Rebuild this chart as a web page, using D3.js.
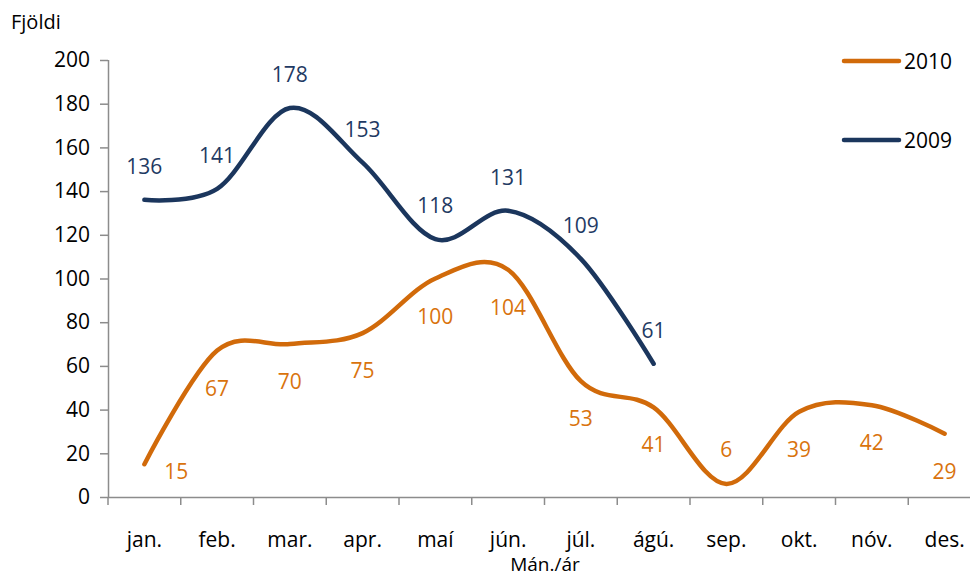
<!DOCTYPE html>
<html><head><meta charset="utf-8">
<script src="https://cdn.jsdelivr.net/npm/d3@7"></script>
<style>
html,body{margin:0;padding:0;background:#fff;}
svg{display:block;font-family:"Open Sans","Noto Sans",sans-serif;}
</style></head>
<body><svg id="c" width="970" height="577"></svg>
<script>
const months = ["jan.","feb.","mar.","apr.","maí","jún.","júl.","ágú.","sep.","okt.","nóv.","des."];
const values2010 = [15,67,70,75,100,104,53,41,6,39,42,29];
const values2009 = [136,141,178,153,118,131,109,61];
const yTicks = [0,20,40,60,80,100,120,140,160,180,200];
const seriesNames = ["2010","2009"];

const col2010 = "#D16A0A", col2009 = "#1B365D";
const lab2010 = "#D9730D", lab2009 = "#1F3A63";
const FS = "21px";

const svg = d3.select("#c");
const x = d3.scaleBand().domain(months).range([108, 981]).paddingInner(0).paddingOuter(0);
const y = d3.scaleLinear().domain([0,200]).range([497, 60]);
const cx = m => x(m) + x.bandwidth()/2;

// Y axis
const yAxis = svg.append("g").attr("transform","translate(108,0)")
  .call(d3.axisLeft(y).tickValues(yTicks).tickSize(8).tickPadding(10));
// X axis
const xAxis = svg.append("g").attr("transform","translate(0,497)")
  .call(d3.axisBottom(x).tickSize(8).tickPadding(0));
xAxis.selectAll(".tick line").attr("transform", `translate(${-x.bandwidth()/2},0)`);
[yAxis, xAxis].forEach(g => {
  g.select(".domain").attr("stroke","#8c8c8c").attr("stroke-width",1.5);
  g.selectAll(".tick line").attr("stroke","#8c8c8c").attr("stroke-width",1.5);
  g.selectAll(".tick text").attr("fill","#000").style("font-size",FS).style("font-family","'Open Sans','Noto Sans',sans-serif");
});
xAxis.selectAll(".tick text").attr("y",50).attr("dy",null).attr("dominant-baseline","alphabetic");
xAxis.select(".domain").attr("d","M108,0.5H981");
yAxis.select(".domain").attr("d","M0.5,497V60");

const line = d3.line().x(d => cx(d.m)).y(d => y(d.v)).curve(d3.curveCardinal.tension(0));
const d2010 = values2010.map((v,i)=>({m:months[i], v}));
const d2009 = values2009.map((v,i)=>({m:months[i], v}));

svg.append("path").datum(d2010).attr("d",line).attr("fill","none")
  .attr("stroke",col2010).attr("stroke-width",4.5).attr("stroke-linecap","round").attr("stroke-linejoin","round");
svg.append("path").datum(d2009).attr("d",line).attr("fill","none")
  .attr("stroke",col2009).attr("stroke-width",4.5).attr("stroke-linecap","round").attr("stroke-linejoin","round");

// Data labels
svg.append("g").selectAll("text").data(d2009).join("text")
  .attr("x", d => cx(d.m)).attr("y", d => y(d.v) - 34)
  .attr("text-anchor","middle").attr("dominant-baseline","central")
  .attr("fill",lab2009).style("font-size",FS).text(d => d.v);

svg.append("g").selectAll("text").data(d2010).join("text")
  .attr("x", (d,i) => cx(d.m) + (i===0 ? 32 : 0))
  .attr("y", (d,i) => i===8 ? y(d.v) - 35 : (i===0 ? y(d.v) + 7 : y(d.v) + 37))
  .attr("text-anchor","middle").attr("dominant-baseline","central")
  .attr("fill",lab2010).style("font-size",FS).text(d => d.v);

// Legend
const leg = [{n:seriesNames[0], c:col2010, y:61},{n:seriesNames[1], c:col2009, y:140}];
const lg = svg.append("g");
leg.forEach(l => {
  lg.append("line").attr("x1",844).attr("x2",899).attr("y1",l.y).attr("y2",l.y)
    .attr("stroke",l.c).attr("stroke-width",4.5).attr("stroke-linecap","round");
  lg.append("text").attr("x",904).attr("y",l.y).attr("dominant-baseline","central")
    .attr("fill","#000").style("font-size",FS).text(l.n);
});

// Axis titles
svg.append("text").attr("x",11).attr("y",21).attr("dominant-baseline","central")
  .style("font-size","20px").attr("fill","#000").text("Fjöldi");
svg.append("text").attr("x",545).attr("y",571).attr("text-anchor","middle")
  .style("font-size","19px").attr("fill","#000").text("Mán./ár");
</script></body></html>
